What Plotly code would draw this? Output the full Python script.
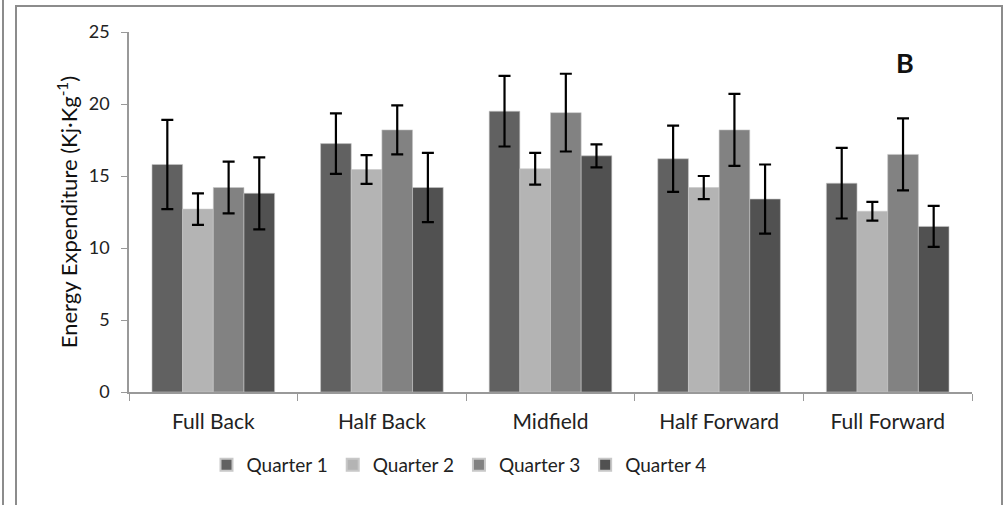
import plotly.graph_objects as go

categories = ["Full Back", "Half Back", "Midfield", "Half Forward", "Full Forward"]
series_names = ["Quarter 1", "Quarter 2", "Quarter 3", "Quarter 4"]
q1 = [15.8, 17.25, 19.5, 16.2, 14.5]
q2 = [12.7, 15.45, 15.5, 14.2, 12.55]
q3 = [14.2, 18.2, 19.4, 18.2, 16.5]
q4 = [13.8, 14.2, 16.4, 13.4, 11.5]
q1_err = [3.1, 2.1, 2.45, 2.3, 2.45]
q2_err = [1.1, 1.0, 1.1, 0.8, 0.65]
q3_err = [1.8, 1.7, 2.7, 2.5, 2.5]
q4_err = [2.5, 2.4, 0.8, 2.4, 1.42]
colors = ["#616161", "#b4b4b4", "#828282", "#515151"]
y_ticks = [0, 5, 10, 15, 20, 25]

W, H = 1007, 505
# plot area in screen pixels
PX0, PX1, PY0, PY1 = 129, 972, 32, 392
L, R, T, B = PX0, W - PX1, PY0, H - PY1
pw = PX1 - PX0
ph = PY1 - PY0

fig = go.Figure()
for name, vals, errs, col in zip(series_names, [q1, q2, q3, q4],
                                  [q1_err, q2_err, q3_err, q4_err], colors):
    fig.add_trace(go.Bar(
        x=categories, y=vals, name=name,
        marker=dict(color=col, line=dict(color="#c8c8c8", width=0.6)),
        error_y=dict(type="data", array=errs, visible=True,
                     color="#000000", thickness=2.2, width=6),
    ))

def sx(px):
    return (px - PX0) / pw

def sy(py):
    return (PY1 - py) / ph

font_family = "Lato, 'Open Sans', sans-serif"

fig.update_layout(
    width=W, height=H,
    margin=dict(l=L, r=R, t=T, b=B),
    paper_bgcolor="white", plot_bgcolor="white",
    barmode="group", bargap=0.2727, bargroupgap=0,
    font=dict(family=font_family, color="#222222", size=16),
    showlegend=True,
    legend=dict(orientation="h", x=sx(459), xanchor="center", y=sy(465), yanchor="middle",
                font=dict(size=19, color="#222222"), itemwidth=30,
                traceorder="normal", itemsizing="constant"),
    xaxis=dict(
        type="category", showgrid=False, showline=True, linecolor="#999999", linewidth=1.5,
        ticks="outside", tickson="boundaries", ticklen=7, tickcolor="#999999",
        tickfont=dict(size=21, color="#222222"), ticklabelstandoff=10,
    ),
    yaxis=dict(
        range=[0, 25], tickvals=y_ticks, showgrid=False, zeroline=False,
        showline=True, linecolor="#999999", linewidth=1.5,
        ticks="outside", ticklen=6, tickcolor="#999999",
        tickfont=dict(size=18, color="#222222"), ticklabelstandoff=8,
        title=dict(text="Energy Expenditure (Kj·Kg<sup>-1</sup>)",
                   font=dict(size=22, color="#111111"), standoff=5),
    ),
    annotations=[
        dict(text="<b>B</b>", x=sx(905), y=sy(62), xref="paper", yref="paper",
             showarrow=False, font=dict(size=27, color="#111111"), xanchor="center", yanchor="middle"),
    ],
    shapes=[
        dict(type="rect", xref="paper", yref="paper",
             x0=sx(16), x1=sx(1002), y0=sy(530), y1=sy(6),
             line=dict(color="#8c8c8c", width=2), fillcolor="rgba(0,0,0,0)", layer="below"),
        dict(type="line", xref="paper", yref="paper",
             x0=sx(3), x1=sx(3), y0=sy(0), y1=sy(530),
             line=dict(color="#8c8c8c", width=2)),
    ],
)

fig.write_html("out.html", config={"displayModeBar": False},
               post_script="document.body.style.margin='0px';")
